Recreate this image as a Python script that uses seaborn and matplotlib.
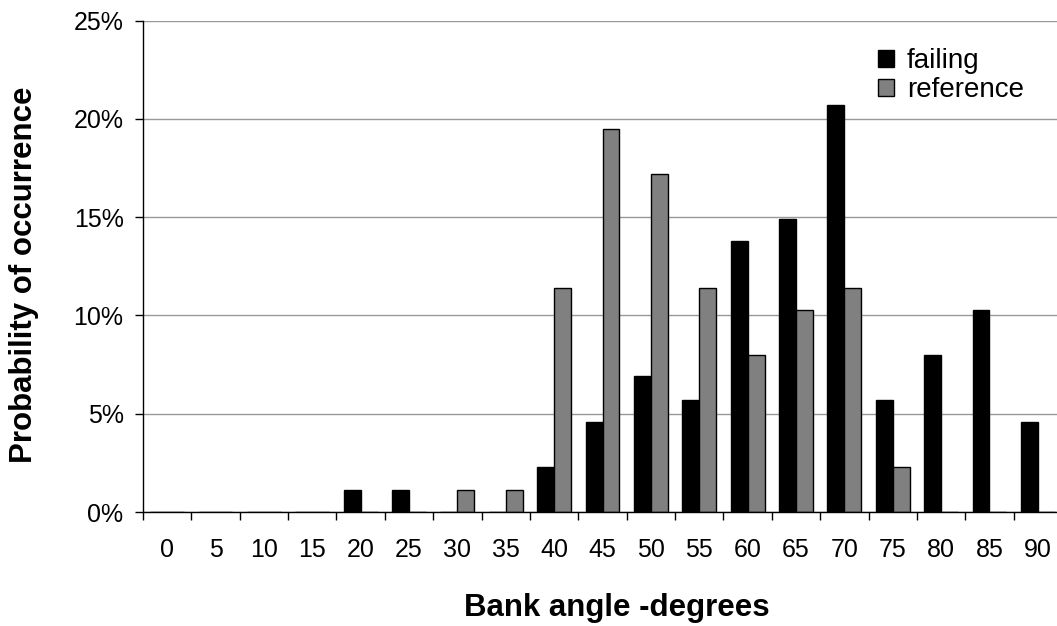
import pandas as pd
import matplotlib
matplotlib.use('Agg')
import matplotlib.pyplot as plt
import seaborn as sns
from matplotlib.ticker import PercentFormatter, FixedLocator

angles = [0, 5, 10, 15, 20, 25, 30, 35, 40, 45, 50, 55, 60, 65, 70, 75, 80, 85, 90]
failing = [0, 0, 0, 0, 1.1, 1.1, 0, 0, 2.3, 4.6, 6.9, 5.7, 13.8, 14.9, 20.7, 5.7, 8.0, 10.3, 4.6]
reference = [0, 0, 0, 0, 0, 0, 1.1, 1.1, 11.4, 19.5, 17.2, 11.4, 8.0, 10.3, 11.4, 2.3, 0, 0, 0]

df = pd.DataFrame({'angle': angles * 2,
                   'value': [v / 100 for v in failing + reference],
                   'series': ['failing'] * len(angles) + ['reference'] * len(angles)})

sns.set_style('white')
plt.rcParams['font.family'] = ['Liberation Sans', 'DejaVu Sans']
plt.rcParams.update({'text.color': 'black', 'axes.labelcolor': 'black',
                     'xtick.color': 'black', 'ytick.color': 'black'})

fig = plt.figure(figsize=(10.57, 6.26), dpi=100)
ax = fig.add_axes([143 / 1057, 114 / 626, 919 / 1057, 491.5 / 626])

sns.barplot(data=df, x='angle', y='value', hue='series', ax=ax,
            palette={'failing': 'black', 'reference': '#808080'},
            edgecolor='black', linewidth=1, width=0.7, saturation=1)

ax.set_ylim(0, 0.25)
ax.set_xlim(-0.5, len(angles) - 0.5)
ax.yaxis.set_major_formatter(PercentFormatter(1.0, decimals=0))
ax.set_yticks([0, 0.05, 0.10, 0.15, 0.20, 0.25])
ax.grid(axis='y', color='#999999', linewidth=1)
ax.set_axisbelow(True)

for s in ['top', 'right']:
    ax.spines[s].set_visible(False)
for s in ['left', 'bottom']:
    ax.spines[s].set_color('black')
    ax.spines[s].set_linewidth(1)

# category boundaries get the tick marks, centres get the labels
ax.xaxis.set_minor_locator(FixedLocator([i - 0.5 for i in range(len(angles) + 1)]))
ax.tick_params(axis='x', which='major', length=0, labelsize=18, pad=19, labelcolor='black')
ax.tick_params(axis='x', which='minor', length=6, width=1, color='black', direction='out', bottom=True)
ax.tick_params(axis='y', length=6, width=1, color='black', direction='out', left=True,
               labelsize=18, pad=8, labelcolor='black')

ax.set_xlabel('Bank angle -degrees', fontsize=22.5, fontweight='bold', color='black')
ax.set_ylabel('Probability of occurrence', fontsize=22.5, fontweight='bold', color='black')
ax.xaxis.set_label_coords(0.516, -0.165)
ax.yaxis.set_label_coords(-0.113, 0.482)

leg = ax.legend(loc='upper left', bbox_to_anchor=(878 / 1057, 1 - 48 / 626),
                bbox_transform=fig.transFigure, frameon=False, fontsize=20,
                borderpad=0, borderaxespad=0,
                handlelength=0.56, handleheight=0.56, handletextpad=0.48, labelspacing=0.12)
for t in leg.get_texts():
    t.set_color('black')

fig.savefig('out.png', dpi=100)
